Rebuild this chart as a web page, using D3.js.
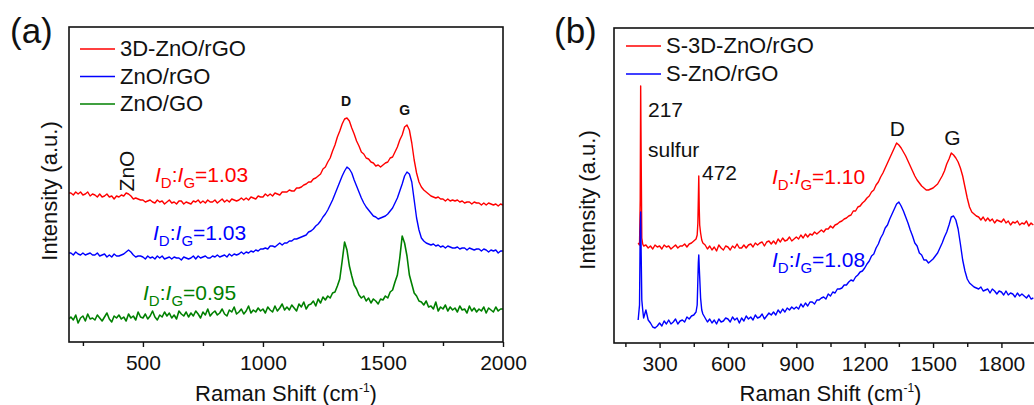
<!DOCTYPE html>
<html>
<head>
<meta charset="utf-8">
<script src="https://cdn.jsdelivr.net/npm/d3@7"></script>
<style>
  body { margin: 0; background: #fff; }
  svg { display: block; }
  text { font-family: "Liberation Sans", Arial, Helvetica, sans-serif; fill: #111; }
</style>
</head>
<body>
<svg id="chart" width="1034" height="405"></svg>
<script>
// ---------- Panel (a): Raman spectra of the composites ----------
const shiftA = [192,
  200,210,220,230,240,250,260,270,280,290,
  300,310,320,330,340,350,360,370,380,390,
  400,410,420,430,440,450,460,470,480,490,
  500,510,520,530,540,550,560,570,580,590,
  600,610,620,630,640,650,660,670,680,690,
  700,710,720,730,740,750,760,770,780,790,
  800,810,820,830,840,850,860,870,880,890,
  900,910,920,930,940,950,960,970,980,990,
  1000,1010,1020,1030,1040,1050,1060,1070,1080,1090,
  1100,1110,1120,1130,1140,1150,1160,1170,1180,1190,
  1200,1210,1220,1230,1240,1250,1260,1270,1280,1290,
  1300,1310,1320,1330,1340,1350,1360,1370,1380,1390,
  1400,1410,1420,1430,1440,1450,1460,1470,1480,1490,
  1500,1510,1520,1530,1540,1550,1560,1570,1580,1590,
  1600,1610,1620,1630,1640,1650,1660,1670,1680,1690,
  1700,1710,1720,1730,1740,1750,1760,1770,1780,1790,
  1800,1810,1820,1830,1840,1850,1860,1870,1880,1890,
  1900,1910,1920,1930,1940,1950,1960,1970,1980,1990,
  2000];

const intensity3DZnOrGO = [149,
  149,147,150,148,150,147,148,150,146,148,
  147,145,148,145,146,148,145,146,143,146,
  145,147,146,149,148,146,143,144,143,142,
  142,140,141,142,140,139,142,140,141,138,
  140,142,139,140,138,141,141,138,140,139,
  138,141,140,142,139,141,139,142,140,140,
  142,139,141,143,140,142,140,143,142,141,
  142,144,142,144,142,145,144,143,146,145,
  145,148,146,148,146,149,148,147,150,150,
  150,152,151,151,154,154,155,157,158,160,
  160,163,164,166,168,173,175,180,184,191,
  197,205,211,218,223,224,221,214,208,201,
  196,190,188,184,183,180,179,176,177,175,
  177,179,180,184,185,190,195,202,207,215,
  217,212,199,182,169,160,155,152,150,148,
  146,145,144,145,143,143,141,143,141,142,
  141,142,140,141,139,140,140,138,140,139,
  139,137,139,137,139,138,137,138,136,138,
  137];

const intensityZnOrGO = [89,
  89,87,90,88,87,89,87,88,89,87,
  87,89,86,87,88,85,87,85,88,86,
  86,87,88,90,92,90,87,85,86,86,
  85,83,86,84,85,83,86,84,86,83,
  84,85,83,85,84,84,82,85,84,83,
  84,86,83,86,84,85,86,84,84,86,
  85,87,85,86,87,85,88,86,88,87,
  88,90,88,90,89,91,90,92,91,93,
  93,94,93,96,96,95,97,99,97,99,
  99,101,101,103,103,104,105,106,107,110,
  111,113,116,118,121,125,128,132,137,142,
  148,154,160,166,171,175,173,169,162,156,
  150,144,139,135,132,129,126,125,123,124,
  125,126,128,131,134,139,144,151,158,166,
  170,168,160,142,124,112,104,101,99,98,
  97,98,96,97,95,96,94,96,95,94,
  94,95,93,94,94,92,94,93,92,93,
  93,91,93,92,90,92,91,92,89,91,
  91];

const intensityZnOGO = [23,
  25,22,27,19,24,26,21,28,23,24,
  22,27,24,21,25,29,23,20,26,24,
  27,23,25,21,28,24,26,22,30,25,
  24,28,23,26,31,25,22,27,25,30,
  26,29,24,27,23,31,28,26,30,25,
  29,26,31,28,24,30,27,33,26,29,
  31,27,29,33,28,26,32,30,35,28,
  30,33,28,31,36,29,32,30,34,31,
  33,29,35,32,30,36,31,34,38,32,
  35,32,37,34,31,38,35,40,33,37,
  38,41,36,43,39,45,42,46,44,49,
  50,56,63,81,100,92,76,66,57,53,
  47,44,46,41,44,39,43,41,38,43,
  42,46,44,50,52,60,67,84,106,99,
  86,67,58,49,46,41,40,37,41,35,
  36,33,40,31,35,33,37,31,35,32,
  34,30,36,32,33,29,36,31,34,30,
  33,31,35,29,34,32,30,35,31,33,
  33];

const seriesNamesA = ["3D-ZnO/rGO", "ZnO/rGO", "ZnO/GO"];
const ratiosA = ["1.03", "1.03", "0.95"];
const majorTicksA = [500, 1000, 1500, 2000];
const minorTicksA = [250, 750, 1250, 1750];

// ---------- Panel (b): sulfur-loaded composites ----------
const shiftB = [206,212,215,217,219,222,226,230,
  240,250,260,270,280,290,
  300,310,320,330,340,350,360,370,380,390,
  400,410,420,430,440,450,460,
  465,468,470,472,474,476,480,485,
  490,
  500,510,520,530,540,550,560,570,580,590,
  600,610,620,630,640,650,660,670,680,690,
  700,710,720,730,740,750,760,770,780,790,
  800,810,820,830,840,850,860,870,880,890,
  900,910,920,930,940,950,960,970,980,990,
  1000,1010,1020,1030,1040,1050,1060,1070,1080,1090,
  1100,1110,1120,1130,1140,1150,1160,1170,1180,1190,
  1200,1210,1220,1230,1240,1250,1260,1270,1280,1290,
  1300,1310,1320,1330,1340,1350,1360,1370,1380,1390,
  1400,1410,1420,1430,1440,1450,1460,1470,1480,1490,
  1500,1510,1520,1530,1540,1550,1560,1570,1580,1590,
  1600,1610,1620,1630,1640,1650,1660,1670,1680,1690,
  1700,1710,1720,1730,1740,1750,1760,1770,1780,1790,
  1800,1810,1820,1830,1840,1850,1860,1870,1880,1890,
  1900,1910,1920,1930,1940];

const intensityS3DZnOrGO = [100,98,143,257,193,105,99,97,
  98,95,97,94,98,96,
  97,94,98,96,97,94,96,98,95,97,
  97,99,96,99,100,102,104,
  108,120,143,167,135,118,110,103,
  100,
  98,94,97,93,96,92,98,95,93,97,
  96,93,97,95,99,95,95,98,95,98,
  99,96,100,98,100,101,97,101,102,99,
  102,99,104,101,105,102,103,106,102,104,
  106,104,108,105,109,106,109,108,111,109,
  111,113,111,114,114,117,115,118,119,121,
  122,124,125,127,128,132,132,136,137,140,
  142,145,147,151,153,158,161,166,170,175,
  180,185,190,195,200,198,195,191,187,182,
  177,172,167,163,160,157,155,153,153,154,
  155,157,159,163,167,172,179,184,190,188,
  185,181,175,167,156,145,136,131,129,127,
  126,123,126,122,125,122,124,120,123,122,
  121,124,120,122,118,121,120,122,118,120,
  119,122,117,120,118];

const intensitySZnOrGO = [23,38,113,131,93,43,33,25,
  33,23,20,16,15,17,
  20,17,22,19,23,19,21,24,19,22,
  23,21,26,24,27,28,31,
  38,63,80,88,76,66,45,33,
  29,
  25,21,24,20,23,19,24,21,22,25,
  24,21,26,23,25,20,25,22,27,24,
  26,23,28,25,26,29,24,27,30,28,
  31,28,33,30,34,31,35,33,36,34,
  36,34,39,36,40,37,41,41,39,43,
  43,45,46,44,49,47,51,50,54,54,
  55,58,58,61,63,62,66,68,71,72,
  75,79,82,87,89,95,99,105,109,115,
  118,124,129,134,139,141,137,132,126,120,
  113,107,100,97,90,88,83,83,80,82,
  84,87,90,95,100,106,111,118,126,127,
  123,114,99,83,72,64,60,58,56,55,
  54,56,52,53,54,50,54,52,49,52,
  51,48,52,48,50,49,46,50,47,49,
  47,45,48,44,45];

const seriesNamesB = ["S-3D-ZnO/rGO", "S-ZnO/rGO"];
const ratiosB = ["1.10", "1.08"];
const majorTicksB = [300, 600, 900, 1200, 1500, 1800];
const minorTicksB = [150, 450, 750, 1050, 1350, 1650, 1950];

// ---------- drawing ----------
const RED = "#ff0000", BLUE = "#0000ff", GREEN = "#008000";
const svg = d3.select("#chart");

function ratioLabel(g, x, y, value, color) {
  const t = g.append("text").attr("x", x).attr("y", y)
    .style("font-size", "21px").style("fill", color);
  t.append("tspan").style("font-style", "italic").text("I");
  t.append("tspan").attr("dy", 6).style("font-size", "15px").text("D");
  t.append("tspan").attr("dy", -6).text(":");
  t.append("tspan").style("font-style", "italic").text("I");
  t.append("tspan").attr("dy", 6).style("font-size", "15px").text("G");
  t.append("tspan").attr("dy", -6).text("=" + value);
}

function drawPanel(p) {
  const g = svg.append("g");
  const x = d3.scaleLinear().domain(p.xDomain).range([p.left, p.right]);
  const y = d3.scaleLinear().domain([0, 315]).range([p.bottom, p.top]);

  const clipId = "clip-" + p.id;
  g.append("clipPath").attr("id", clipId).append("rect")
    .attr("x", p.left).attr("y", p.top)
    .attr("width", p.right - p.left).attr("height", p.bottom - p.top);

  const line = d3.line().x(d => x(d[0])).y(d => y(d[1]));
  const plot = g.append("g").attr("clip-path", `url(#${clipId})`);
  p.series.forEach(s => {
    plot.append("path")
      .datum(d3.zip(p.shift, s.values))
      .attr("fill", "none").attr("stroke", s.color)
      .attr("stroke-width", s.width || 1.4).attr("stroke-linejoin", "round")
      .attr("d", line);
  });

  // bottom axis: labelled major ticks plus unlabelled minor ticks
  const major = g.append("g").attr("transform", `translate(0,${p.bottom})`)
    .call(d3.axisBottom(x).tickValues(p.majorTicks).tickSize(5).tickSizeOuter(0)
      .tickFormat(d3.format("d")));
  const minor = g.append("g").attr("transform", `translate(0,${p.bottom})`)
    .call(d3.axisBottom(x).tickValues(p.minorTicks).tickSize(4).tickSizeOuter(0).tickFormat(""));
  [major, minor].forEach(a => {
    a.select(".domain").remove();
    a.selectAll(".tick line").attr("stroke", "#111").attr("stroke-width", 1.4);
  });
  major.selectAll(".tick text").style("font-size", "21px").attr("font-family", null)
    .attr("fill", null).attr("dy", null).attr("y", 28);

  // frame
  g.append("rect")
    .attr("x", p.left).attr("y", p.top)
    .attr("width", p.right - p.left).attr("height", p.bottom - p.top)
    .attr("fill", "none").attr("stroke", "#111").attr("stroke-width", 1.6);

  // axis titles
  const xt = g.append("text").attr("x", (p.left + p.right) / 2).attr("y", 401)
    .attr("text-anchor", "middle").style("font-size", "22px");
  xt.append("tspan").text("Raman Shift (cm");
  xt.append("tspan").attr("dy", -9).style("font-size", "12px").text("-1");
  xt.append("tspan").attr("dy", 9).text(")");

  g.append("text")
    .attr("transform", `translate(${p.yTitleX},${p.yTitleY}) rotate(-90)`)
    .attr("text-anchor", "middle").style("font-size", "22px")
    .text("Intensity (a.u.)");

  // panel tag
  g.append("text").attr("x", p.tagX).attr("y", 43).style("font-size", "35px").text(p.tag);

  // legend
  p.series.forEach((s, i) => {
    const ly = p.legendY + i * p.legendStep;
    g.append("line").attr("x1", p.legendX).attr("x2", p.legendX + 35)
      .attr("y1", ly).attr("y2", ly).attr("stroke", s.color).attr("stroke-width", 1.5);
    g.append("text").attr("x", p.legendX + 40).attr("y", ly + 7)
      .style("font-size", "22px").text(s.name);
  });

  // I_D:I_G ratios
  p.series.forEach(s => {
    ratioLabel(g, s.ratioX, s.ratioY, s.ratio, s.color);
  });
  return { g, x, y };
}

// panel (a)
const pa = drawPanel({
  id: "a", tag: "(a)", tagX: 10,
  xDomain: [192, 2000], left: 69, right: 503, top: 27, bottom: 342,
  shift: shiftA, majorTicks: majorTicksA, minorTicks: minorTicksA,
  yTitleX: 57, yTitleY: 191,
  legendX: 80, legendY: 49, legendStep: 27.5,
  series: [
    { name: seriesNamesA[0], values: intensity3DZnOrGO, color: RED, ratio: ratiosA[0], ratioX: 155, ratioY: 182 },
    { name: seriesNamesA[1], values: intensityZnOrGO, color: BLUE, ratio: ratiosA[1], ratioX: 153, ratioY: 240 },
    { name: seriesNamesA[2], values: intensityZnOGO, color: GREEN, width: 1.6, ratio: ratiosA[2], ratioX: 143, ratioY: 300 }
  ]
});
pa.g.append("text")
  .attr("transform", "translate(134,171) rotate(-90)")
  .attr("text-anchor", "middle").style("font-size", "21px").text("ZnO");
pa.g.append("text").attr("x", pa.x(1346)).attr("y", 106).attr("text-anchor", "middle")
  .style("font-size", "14px").style("font-weight", "bold").text("D");
pa.g.append("text").attr("x", pa.x(1590)).attr("y", 115).attr("text-anchor", "middle")
  .style("font-size", "14px").style("font-weight", "bold").text("G");

// panel (b)
const pb = drawPanel({
  id: "b", tag: "(b)", tagX: 554,
  xDomain: [100, 2000], left: 614, right: 1047, top: 28, bottom: 343,
  shift: shiftB, majorTicks: majorTicksB, minorTicks: minorTicksB,
  yTitleX: 595, yTitleY: 200,
  legendX: 626, legendY: 46, legendStep: 28,
  series: [
    { name: seriesNamesB[0], values: intensityS3DZnOrGO, color: RED, ratio: ratiosB[0], ratioX: 772, ratioY: 184 },
    { name: seriesNamesB[1], values: intensitySZnOrGO, color: BLUE, ratio: ratiosB[1], ratioX: 772, ratioY: 267 }
  ]
});
pb.g.append("text").attr("x", 648).attr("y", 117).style("font-size", "21px").text("217");
pb.g.append("text").attr("x", 648).attr("y", 157).style("font-size", "21px").text("sulfur");
pb.g.append("text").attr("x", 702).attr("y", 180).style("font-size", "21px").text("472");
pb.g.append("text").attr("x", pb.x(1343)).attr("y", 136).attr("text-anchor", "middle")
  .style("font-size", "21px").text("D");
pb.g.append("text").attr("x", pb.x(1585)).attr("y", 145).attr("text-anchor", "middle")
  .style("font-size", "21px").text("G");
</script>
</body>
</html>
